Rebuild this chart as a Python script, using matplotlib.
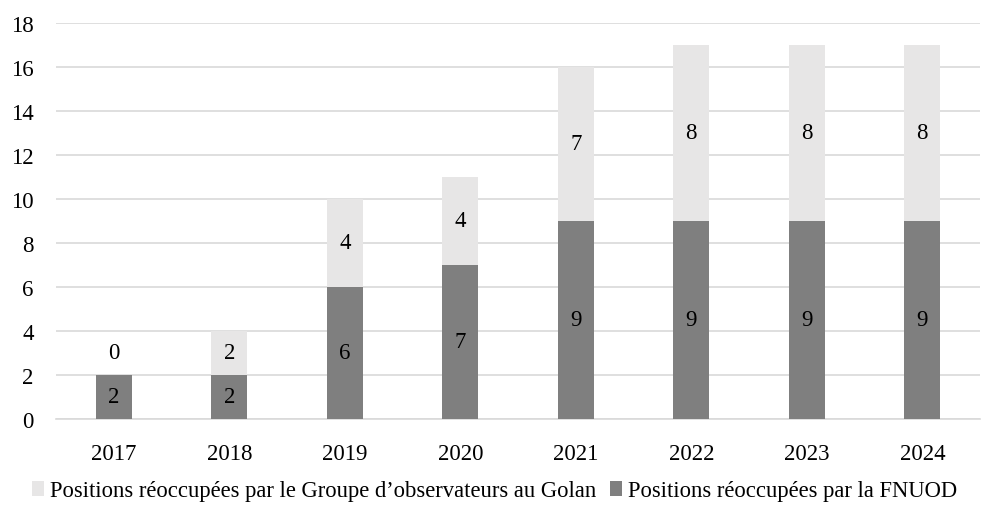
import numpy as np
import matplotlib.pyplot as plt

annees = ['2017', '2018', '2019', '2020', '2021', '2022', '2023', '2024']
fnuod = [2, 2, 6, 7, 9, 9, 9, 9]
golan = [0, 2, 4, 4, 7, 8, 8, 8]

lab_golan = 'Positions réoccupées par le Groupe d\u2019observateurs au Golan'
lab_fnuod = 'Positions réoccupées par la FNUOD'

plt.rcParams['font.family'] = ['Liberation Serif', 'DejaVu Serif']
plt.rcParams['font.size'] = 16.5

fig = plt.figure(figsize=(9.84, 5.06), dpi=100)
ax = fig.add_axes([0.057, 0.170, 0.939, 0.7826])

x = np.arange(len(annees))
w = 0.31
sombre = '#7f7f7f'
clair = '#e7e6e6'

b1 = ax.bar(x, fnuod, w, color=sombre, label=lab_fnuod, zorder=3)
b2 = ax.bar(x, golan, w, bottom=fnuod, color=clair, label=lab_golan, zorder=3)

# étiquettes de valeurs
for i in range(len(annees)):
    ax.text(x[i], fnuod[i] / 2, str(fnuod[i]), ha='center', va='center', zorder=4)
    h = golan[i] if golan[i] else 2
    ax.text(x[i], fnuod[i] + h / 2, str(golan[i]), ha='center', va='center', zorder=4)

ax.set_xlim(-0.5, len(annees) - 0.5)
ax.set_ylim(0, 18)
ax.set_yticks(range(0, 19, 2))
ax.set_xticks(x)
ax.set_xticklabels(annees)
ax.tick_params(axis='x', length=0, pad=17)
ax.tick_params(axis='y', length=0, pad=16)
ax.yaxis.grid(True, color='#d9d9d9', linewidth=1.2, zorder=0)
for s in ['top', 'right', 'left']:
    ax.spines[s].set_visible(False)
ax.spines['bottom'].set_color('#d9d9d9')
ax.spines['bottom'].set_linewidth(1.2)

fig.legend([b2, b1], [lab_golan, lab_fnuod], loc='center', bbox_to_anchor=(0.503, 0.028),
           ncol=2, frameon=False, handlelength=0.5, handleheight=0.6,
           handletextpad=0.3, columnspacing=0.6, fontsize=16.3)

fig.savefig('out.png', dpi=100)
